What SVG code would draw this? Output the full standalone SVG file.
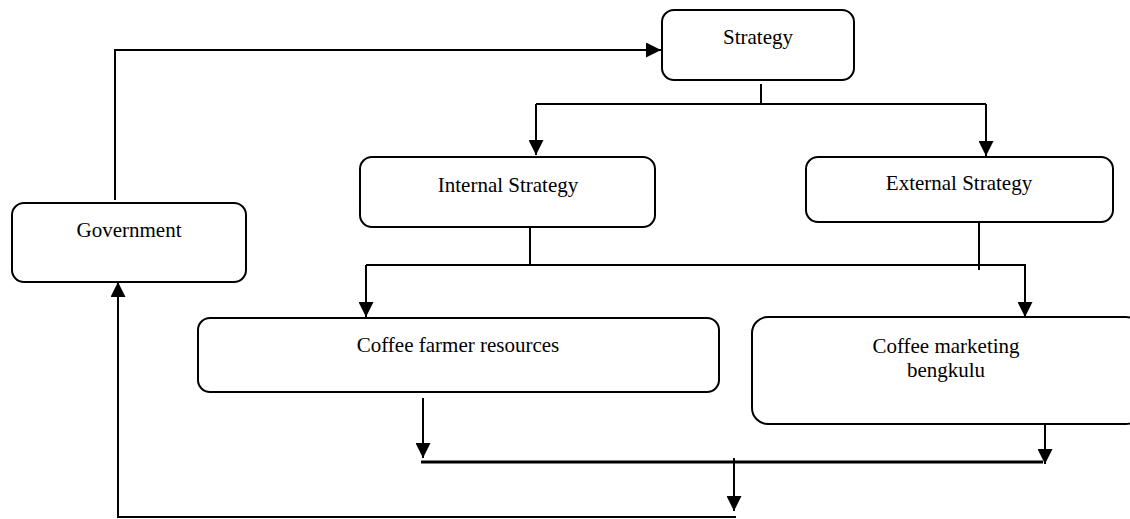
<svg xmlns="http://www.w3.org/2000/svg" width="1130" height="519" viewBox="0 0 1130 519">
<style>
.box{fill:#fff;stroke:#000;stroke-width:2}
.lbl{font-family:"Liberation Serif","Times New Roman",serif;font-size:21px;fill:#000;text-anchor:middle}
.ln{fill:none;stroke:#000;stroke-width:2}
.thick{fill:none;stroke:#000;stroke-width:3}
</style>
<defs>
<marker id="ah" markerUnits="userSpaceOnUse" markerWidth="15" markerHeight="15" refX="15" refY="7.5" orient="auto">
<path d="M0,0 L15,7.5 L0,15 z" fill="#000"/>
</marker>
</defs>
<rect width="1130" height="519" fill="#fff"/>
<g id="connectors">
<path class="ln" d="M115,200 V50 H661" marker-end="url(#ah)"/>
<path class="ln" d="M761,84 V104"/>
<path class="ln" d="M536,104 H986"/>
<path class="ln" d="M536,104 V155" marker-end="url(#ah)"/>
<path class="ln" d="M986,104 V156" marker-end="url(#ah)"/>
<path class="ln" d="M530,227 V265"/>
<path class="ln" d="M979,222 V270"/>
<path class="ln" d="M366,265 H1026"/>
<path class="ln" d="M366,265 V317" marker-end="url(#ah)"/>
<path class="ln" d="M1025,265 V317" marker-end="url(#ah)"/>
<path class="ln" d="M423,398 V458" marker-end="url(#ah)"/>
<path class="thick" d="M421,462 H1043"/>
<path class="ln" d="M1045,424 V464" marker-end="url(#ah)"/>
<path class="ln" d="M734,458 V511" marker-end="url(#ah)"/>
<path class="ln" d="M736,517 H118 V282" marker-end="url(#ah)"/>
</g>
<g id="strategy">
<rect class="box" x="662" y="10" width="192" height="70" rx="12"/>
<text class="lbl" x="758" y="44">Strategy</text>
</g>
<g id="internal">
<rect class="box" x="360" y="157" width="295" height="70" rx="12"/>
<text class="lbl" x="508" y="192">Internal Strategy</text>
</g>
<g id="external">
<rect class="box" x="806" y="157" width="307" height="65" rx="12"/>
<text class="lbl" x="959" y="190">External Strategy</text>
</g>
<g id="government">
<rect class="box" x="12" y="203" width="234" height="79" rx="12"/>
<text class="lbl" x="129" y="237">Government</text>
</g>
<g id="farmer">
<rect class="box" x="198" y="318" width="521" height="74" rx="12"/>
<text class="lbl" x="458" y="352">Coffee farmer resources</text>
</g>
<g id="marketing">
<rect class="box" x="752" y="317" width="390" height="107" rx="16"/>
<text class="lbl" x="946" y="353">Coffee marketing</text>
<text class="lbl" x="946" y="377">bengkulu</text>
</g>
</svg>
